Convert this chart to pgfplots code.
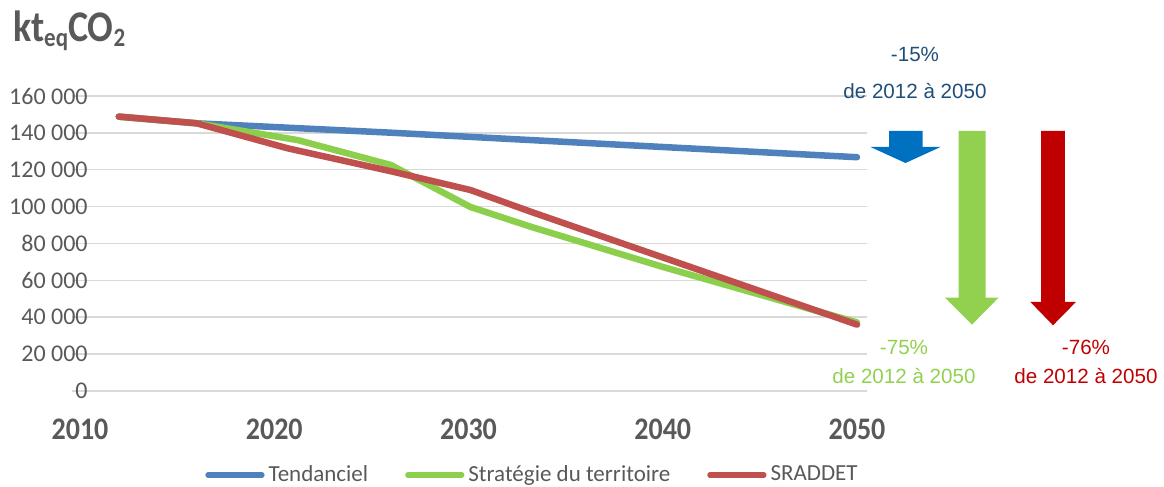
\documentclass[border=0pt]{standalone}
\usepackage{pgfplots}
\pgfplotsset{compat=1.18}
\usepackage{fontspec}
\setmainfont{Carlito}
\newfontfamily\annfont{Liberation Sans}
\definecolor{gtxt}{HTML}{595959}
\definecolor{gridc}{HTML}{D9D9D9}
\definecolor{lblue}{HTML}{4F81BD}
\definecolor{lgreen}{HTML}{8CCF4D}
\definecolor{lred}{HTML}{C0504D}
\definecolor{ablue}{HTML}{0070C0}
\definecolor{agreen}{HTML}{92D050}
\definecolor{ared}{HTML}{C00000}
\definecolor{tblue}{HTML}{1F4E79}
\begin{document}
\begin{tikzpicture}
\useasboundingbox (0,0) rectangle (582pt,243.5pt);
\begin{axis}[
  at={(36pt,48pt)}, anchor=south west,
  scale only axis, width=397.5pt, height=147.5pt,
  xmin=2009.588, xmax=2050.515, ymin=0, ymax=160000,
  xtick={2010,2020,2030,2040,2050},
  xticklabels={2010,2020,2030,2040,2050},
  ytick={0,20000,40000,60000,80000,100000,120000,140000,160000},
  yticklabels={0,20 000,40 000,60 000,80 000,100 000,120 000,140 000,160 000},
  scaled y ticks=false,
  ymajorgrids, grid style={draw=gridc, line width=0.75pt},
  axis line style={draw=none}, major tick length=0pt,
  tick label style={text=gtxt},
  yticklabel style={font=\fontsize{12}{14}\selectfont, anchor=east, inner sep=0pt, xshift=8pt},
  xticklabel style={font=\fontsize{14}{16}\selectfont\bfseries, anchor=north, inner sep=0pt, yshift=-13.5pt, yscale=1.12},
  clip=false,
  legend style={at={(0.1673,-0.2847)}, anchor=west, draw=none, fill=none,
    inner sep=0pt, nodes={inner sep=0pt, text=gtxt},
    font=\fontsize{11.5}{13}\selectfont, legend columns=-1,
    /tikz/every odd column/.append style={column sep=2pt},
    /tikz/every even column/.append style={column sep=18.5pt}},
  legend image code/.code={\draw[#1, line width=2.6pt] (0pt,0pt) -- (27pt,0pt);},
  every axis plot/.append style={line width=3.25pt, line cap=round, line join=round},
]
\addplot[lblue] coordinates {
  (2012,148800) (2016,145200) (2026,140100) (2033.2,136100) (2050,126800)};
\addlegendentry{Tendanciel}
\addplot[lgreen] coordinates {
  (2012,148800) (2016,145200) (2021.2,136100) (2026,122600) (2030.1,99800)
  (2033.2,89100) (2040,67300) (2050,37200)};
\addlegendentry{Stratégie du territoire}
\addplot[lred] coordinates {
  (2012,148800) (2016,145200) (2020.7,131600) (2026,119200) (2030.1,109000)
  (2033.2,97250) (2050,36000)};
\addlegendentry{SRADDET}
\end{axis}
% title
\node[anchor=base west, inner sep=0pt, text=gtxt, font=\fontsize{19}{21}\selectfont\bfseries, yscale=1.15]
  at (6.3pt,222.5pt) {kt\raisebox{-2pt}{\fontsize{11.5}{13}\selectfont eq}CO\raisebox{-1.8pt}{\fontsize{11.5}{13}\selectfont 2}};
% arrows
\fill[ablue] (444.5pt,178pt) -- (461.35pt,178pt) -- (461.35pt,170pt) -- (470.25pt,170pt)
  -- (452.75pt,162pt) -- (435.25pt,170pt) -- (444.5pt,170pt) -- cycle;
\fill[agreen] (479.35pt,178pt) -- (492.85pt,178pt) -- (492.85pt,94.65pt) -- (499.25pt,94.65pt)
  -- (486pt,81.2pt) -- (472.5pt,94.65pt) -- (479.35pt,94.65pt) -- cycle;
\fill[ared] (520.5pt,178pt) -- (532.4pt,178pt) -- (532.4pt,92.5pt) -- (537.95pt,92.5pt)
  -- (526.5pt,80.85pt) -- (515.2pt,92.5pt) -- (520.5pt,92.5pt) -- cycle;
% annotations
\begin{scope}[every node/.style={anchor=base, inner sep=0pt, font=\annfont\fontsize{10.3}{12}\selectfont}]
\node[text=tblue] at (457.5pt,212.5pt) {-15\%};
\node[text=tblue] at (457.5pt,194pt) {de 2012 à 2050};
\node[text=agreen] at (452pt,66pt) {-75\%};
\node[text=agreen] at (452pt,51.75pt) {de 2012 à 2050};
\node[text=ared] at (543pt,66pt) {-76\%};
\node[text=ared] at (543pt,51.75pt) {de 2012 à 2050};
\end{scope}
\end{tikzpicture}
\end{document}
